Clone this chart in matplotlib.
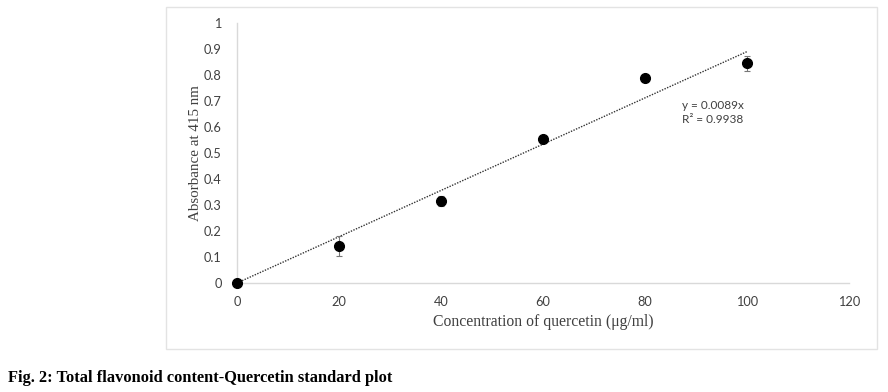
import matplotlib
matplotlib.use("Agg")
import matplotlib.pyplot as plt
import numpy as np
from matplotlib.patches import Rectangle

conc = [0, 20, 40, 60, 80, 100]
absorb = [0.0, 0.142, 0.315, 0.552, 0.787, 0.845]
err = [0.0, 0.04, 0.02, 0.01, 0.006, 0.03]
slope = 0.0089
fit_x = [0, 100]
xticks = [0, 20, 40, 60, 80, 100, 120]
yticks = [0, 0.1, 0.2, 0.3, 0.4, 0.5, 0.6, 0.7, 0.8, 0.9, 1]

fig = plt.figure(figsize=(8.88, 3.92), dpi=100)
fig.patches.append(Rectangle((166/888, 1-349/392), (877-166)/888, (349-7)/392,
                             transform=fig.transFigure, fill=False,
                             edgecolor="#e3e3e3", linewidth=1.0))
ax = fig.add_axes([237/888, 1-283/392, (849-237)/888, (283-23)/392])

fx = np.array(fit_x)
ax.plot(fx, slope*fx, linestyle=(0, (1, 1)), color="#333333", linewidth=1.0, zorder=2)
cont = ax.errorbar(conc, absorb, yerr=err, fmt="o", color="black", markersize=7,
                   ecolor="#777777", elinewidth=0.8, capsize=2.5, capthick=0.8, zorder=3)
cont[0].set_clip_on(False)

ax.set_xlim(0, 120)
ax.set_ylim(0, 1)
ax.set_xticks(xticks)
ax.set_xticklabels([str(v) for v in xticks], family="Lato", fontsize=9.2, color="#404040")
ax.set_yticks(yticks)
ax.set_yticklabels([("%g" % v) for v in yticks], family="Lato", fontsize=9.2, color="#404040")
ax.tick_params(axis="y", length=0, pad=11)
ax.tick_params(axis="x", length=0, pad=9)
for s in ["top", "right"]:
    ax.spines[s].set_visible(False)
for s in ["left", "bottom"]:
    ax.spines[s].set_color("#d9d9d9")
    ax.spines[s].set_linewidth(1.0)

ax.set_xlabel("Concentration of quercetin (μg/ml)", family="Liberation Serif", fontsize=11.3, color="#404040", labelpad=5)
ax.set_ylabel("Absorbance at 415 nm", family="Liberation Serif", fontsize=10.8, color="#404040", labelpad=1)

ax.text(87.3, 0.655, "y = 0.0089x\nR² = 0.9938", family="Lato", fontsize=8.5,
        color="#404040", va="center", ha="left", linespacing=1.3)

fig.text(8/888, 1-378/392, "Fig. 2: Total flavonoid content-Quercetin standard plot",
         family="Liberation Serif", fontweight="bold", fontsize=11.8, va="center", ha="left")

fig.savefig("out.png", dpi=100)
